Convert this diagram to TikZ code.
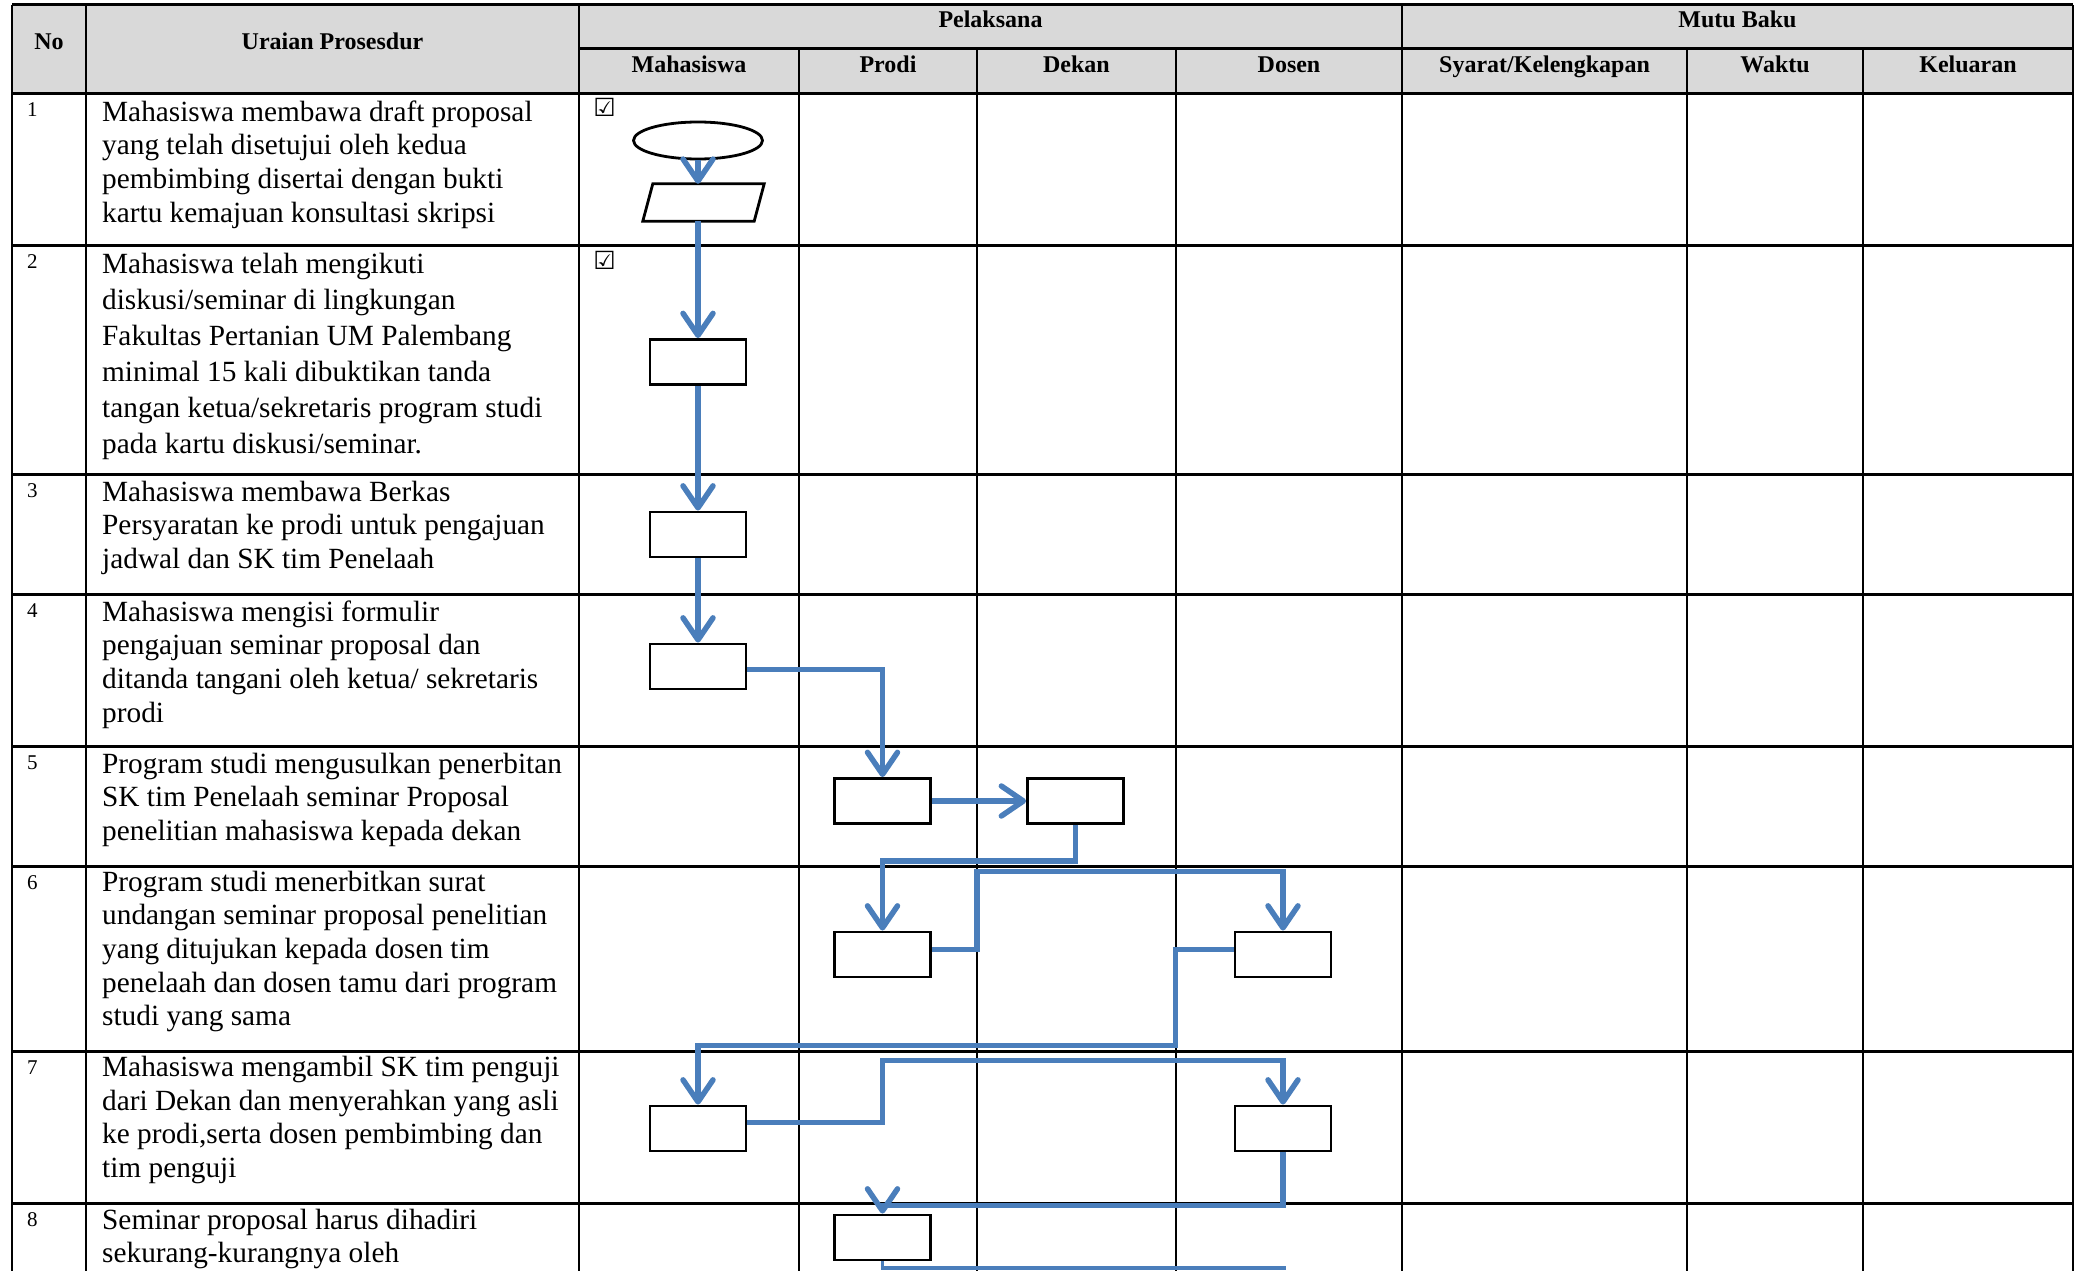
\documentclass[tikz,border=0pt]{standalone}
\usepackage{fontspec}
\setmainfont{Liberation Serif}
\newfontfamily\symfont{DejaVu Sans}
\usetikzlibrary{arrows.meta,shapes.geometric,calc}
\definecolor{flowblue}{HTML}{4A7EBB}
\definecolor{headgray}{HTML}{D9D9D9}
\begin{document}
\begin{tikzpicture}[x=1pt,y=-1pt,
  hrule/.style={line width=3pt},
  vrule/.style={line width=2pt},
  cell/.style={anchor=north west, inner sep=0pt, align=left, font=\fontsize{29.3}{33.6}\selectfont},
  cellwide/.style={cell, font=\fontsize{29.3}{36}\selectfont},
  num/.style={anchor=base west, inner sep=0pt, font=\fontsize{21}{25}\selectfont},
  head/.style={anchor=base, inner sep=0pt, font=\fontsize{24}{28}\selectfont\bfseries},
  chk/.style={inner sep=0pt, font=\symfont\fontsize{25}{28}\selectfont},
  proc/.style={draw=black, fill=white, line width=2.8pt, minimum width=96pt, minimum height=45pt, inner sep=0pt},
  flow/.style={draw=flowblue, line width=5.5pt, -{Straight Barb[length=22pt,width=30pt,round]}},
  thinflow/.style={draw=flowblue, line width=3.5pt}
]
\useasboundingbox (0,0) rectangle (2078,1271);
\clip (0,0) rectangle (2078,1271);
% header background
\fill[headgray] (12,5) rectangle (2073,94);
% horizontal rules
\foreach \yy in {5,94,245,474,594,746,866,1051,1203}
  \draw[hrule] (12,\yy) -- (2073,\yy);
\draw[hrule] (579,49) -- (2073,49);
% vertical rules
\foreach \xx in {12,86,579,1402,2073}
  \draw[vrule] (\xx,5) -- (\xx,1290);
\foreach \xx in {799,977,1176,1687,1863}
  \draw[vrule] (\xx,49) -- (\xx,1290);
% header texts
\node[head] (hno) at (49,50) {No};
\node[head] (hur) at (332.5,50) {Uraian Prosesdur};
\node[head] (hpel) at (990.5,28) {Pelaksana};
\node[head] (hmut) at (1737.5,28) {Mutu Baku};
\node[head] (hmhs) at (689,73) {Mahasiswa};
\node[head] (hpro) at (888,73) {Prodi};
\node[head] (hdek) at (1076.5,73) {Dekan};
\node[head] (hdos) at (1289,73) {Dosen};
\node[head] (hsya) at (1544.5,73) {Syarat/Kelengkapan};
\node[head] (hwak) at (1775,73) {Waktu};
\node[head] (hkel) at (1968,73) {Keluaran};
% row numbers
\node[num] (n1) at (27,117) {1};
\node[num] (n2) at (27,268) {2};
\node[num] (n3) at (27,497) {3};
\node[num] (n4) at (27,617) {4};
\node[num] (n5) at (27,769) {5};
\node[num] (n6) at (27,889) {6};
\node[num] (n7) at (27,1074) {7};
\node[num] (n8) at (27,1226) {8};
% row texts
\node[cell] (t1) at (102,97.5) {\strut Mahasiswa membawa draft proposal\\yang telah disetujui oleh kedua\\pembimbing disertai dengan bukti\\kartu kemajuan konsultasi skripsi};
\node[cellwide] (t2) at (102,248) {\strut Mahasiswa telah mengikuti\\diskusi/seminar di lingkungan\\Fakultas Pertanian UM Palembang\\minimal 15 kali dibuktikan tanda\\tangan ketua/sekretaris program studi\\pada kartu diskusi/seminar.};
\node[cell] (t3) at (102,477.5) {\strut Mahasiswa membawa Berkas\\Persyaratan ke prodi untuk pengajuan\\jadwal dan SK tim Penelaah};
\node[cell] (t4) at (102,597.5) {\strut Mahasiswa mengisi formulir\\pengajuan seminar proposal dan\\ditanda tangani oleh ketua/ sekretaris\\prodi};
\node[cell] (t5) at (102,749.5) {\strut Program studi mengusulkan penerbitan\\SK tim Penelaah seminar Proposal\\penelitian mahasiswa kepada dekan};
\node[cell] (t6) at (102,867.5) {\strut Program studi menerbitkan surat\\undangan seminar proposal penelitian\\yang ditujukan kepada dosen tim\\penelaah dan dosen tamu dari program\\studi yang sama};
\node[cell] (t7) at (102,1053) {\strut Mahasiswa mengambil SK tim penguji\\dari Dekan dan menyerahkan yang asli\\ke prodi,serta dosen pembimbing dan\\tim penguji};
\node[cell] (t8) at (102,1205.5) {\strut Seminar proposal harus dihadiri\\sekurang-kurangnya oleh};
% check boxes
\node[chk] (c1) at (604.5,107.5) {☑};
\node[chk] (c2) at (604.5,260) {☑};
% flow shapes
\node[ellipse, draw=black, fill=white, line width=2.8pt, minimum width=129pt, minimum height=37pt, inner sep=0pt] (b1e) at (698,140.5) {};
\node[rectangle, minimum width=121pt, minimum height=37pt, inner sep=0pt] (b1p) at (703.5,202.5) {};
\draw[black, fill=white, line width=2.8pt] (b1p.south west) -- ($(b1p.north west)+(10,0)$) -- (b1p.north east) -- ($(b1p.south east)+(-10,0)$) -- cycle;
\node[proc] (b2) at (698,362) {};
\node[proc] (b3) at (698,534.5) {};
\node[proc] (b4) at (698,666.5) {};
\node[proc] (b5a) at (882.5,801) {};
\node[proc] (b5b) at (1075.5,801) {};
\node[proc] (b6a) at (882.5,954.5) {};
\node[proc] (b6b) at (1283,954.5) {};
\node[proc] (b7a) at (698,1128.5) {};
\node[proc] (b7b) at (1283,1128.5) {};
\node[proc] (b8) at (882.5,1237.5) {};
\coordinate (cut) at (1286,1268);
% connectors
\draw[flow] (b1e.south) -- (b1e.south |- b1p.north);
\draw[flow] (b2.north |- b1p.south) -- (b2.north);
\draw[flow] (b2.south) -- (b3.north);
\draw[flow] (b3.south) -- (b4.north);
\draw[flow] ($(b4.east)+(0,3)$) -| (b5a.north);
\draw[flow] (b5a.east) -- (b5b.west);
\draw[flow] (b5b.south) -- ++(0,36) -| (b6a.north);
\draw[flow] ($(b6a.east)+(0,-5)$) -- ++(45,0) |- ($(b6b.north)+(0,-59)$) -- (b6b.north);
\draw[flow] ($(b6b.west)+(0,-5)$) -- ++(-58,0) |- ($(b7a.north)+(0,-59)$) -- (b7a.north);
\draw[flow] ($(b7a.east)+(0,-6)$) -- ++(135,0) |- ($(b7b.north)+(0,-44)$) -- (b7b.north);
\draw[flow] (b7b.south) -- ++(0,53) -| (b8.north);
\draw[thinflow] (b8.south) |- (cut);
\end{tikzpicture}
\end{document}
